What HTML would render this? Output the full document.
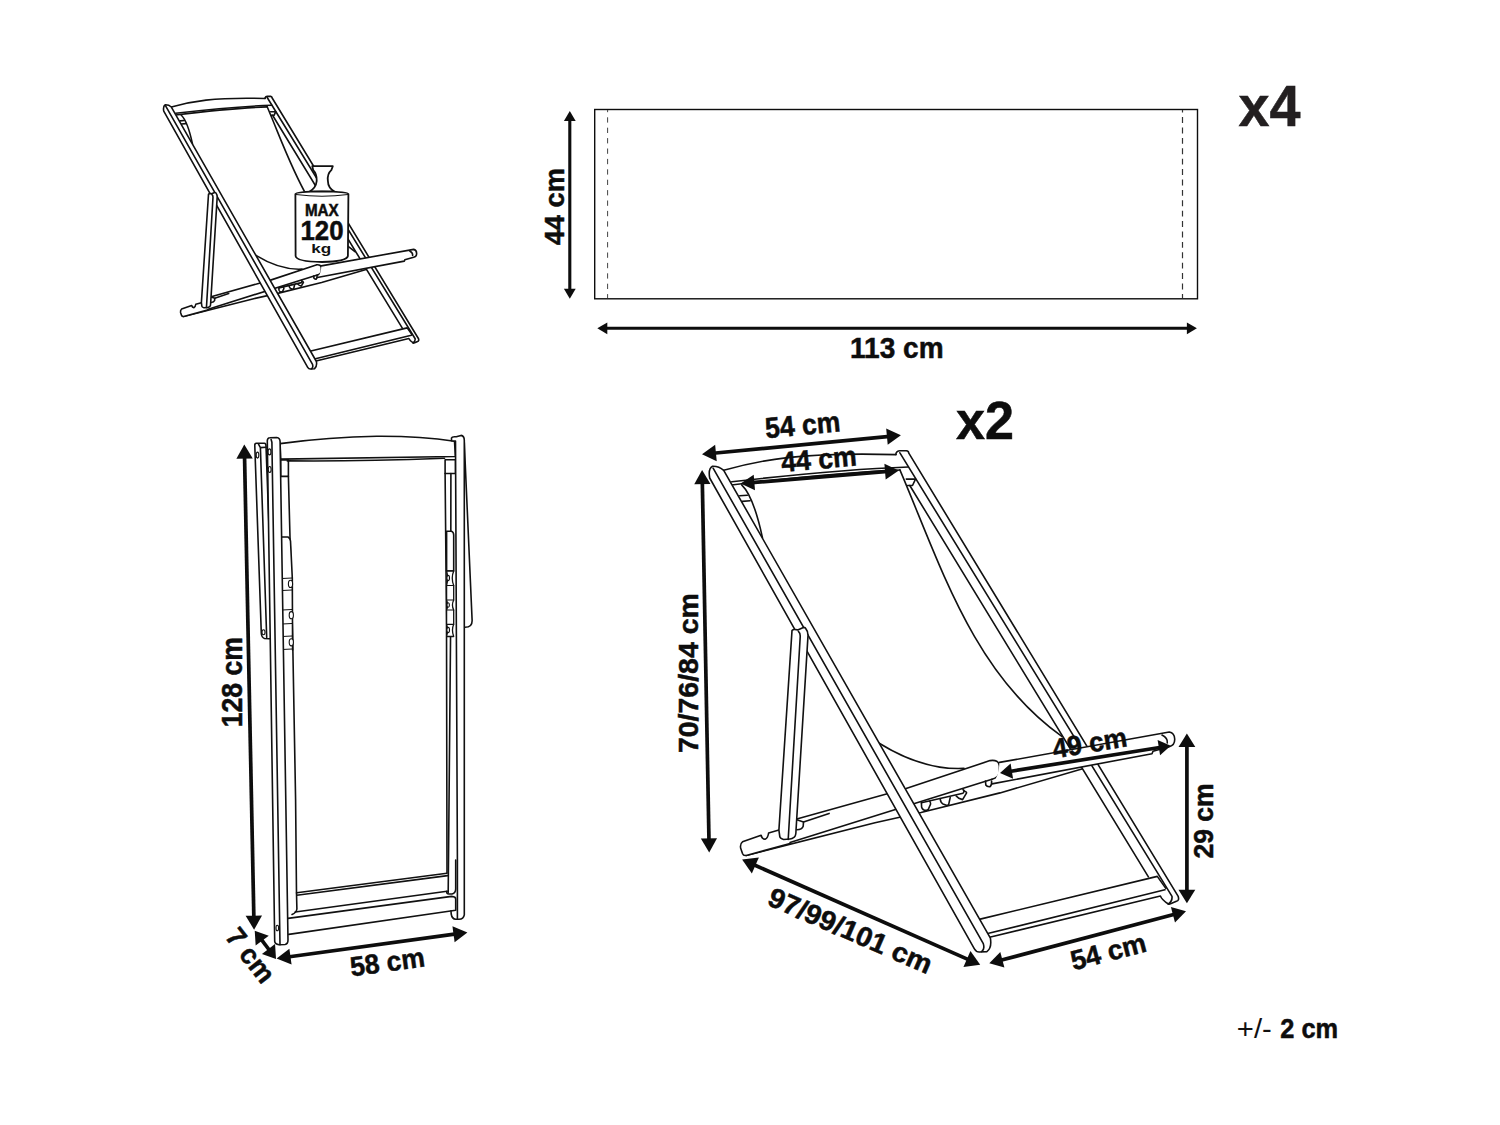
<!DOCTYPE html>
<html><head><meta charset="utf-8"><style>
html,body{margin:0;padding:0;background:#fff;}
svg{display:block;font-family:"Liberation Sans",sans-serif;}
</style></head><body>
<svg width="1500" height="1125" viewBox="0 0 1500 1125">
<rect width="1500" height="1125" fill="#fff"/>
<g id="bigchair"><path d="M899.9,469.9 C940.6,565.2 973.1,673.3 1061.8,736.4" fill="none" stroke="#111" stroke-width="1.6" stroke-linejoin="round" stroke-linecap="round" vector-effect="non-scaling-stroke"/>
<path d="M741.7,484.9 C750,493 757,512 762.5,538" fill="none" stroke="#111" stroke-width="1.6" stroke-linejoin="round" stroke-linecap="round" vector-effect="non-scaling-stroke"/>
<path d="M879.2,743.2 C904.5,758.8 933.8,770.0 964.0,768.4" fill="none" stroke="#111" stroke-width="1.6" stroke-linejoin="round" stroke-linecap="round" vector-effect="non-scaling-stroke"/>
<path d="M896,454.6 L896,453.2 Q897,450.7 899.9,450.7 L906.3,450.7 Q908.8,451 908.8,453.2 L1178.2,896.4 Q1179.5,900.5 1176.4,901.3 L1171.1,903.6 Q1169,904.5 1168.4,904" fill="#fff" stroke="#111" stroke-width="1.6" stroke-linejoin="round" stroke-linecap="round" vector-effect="non-scaling-stroke"/>
<path d="M899.9,452.8 L1172,896.4 Q1172.5,901 1168.4,904" fill="none" stroke="#111" stroke-width="1.6" stroke-linejoin="round" stroke-linecap="round" vector-effect="non-scaling-stroke"/>
<path d="M909.8,485.5 L1148.4,876.9" fill="none" stroke="#111" stroke-width="1.6" stroke-linejoin="round" stroke-linecap="round" vector-effect="non-scaling-stroke"/>
<path d="M906.3,479.1 L915.5,479.1 L912.5,485.5 L907.5,485.5" fill="none" stroke="#111" stroke-width="1.6" stroke-linejoin="round" stroke-linecap="round" vector-effect="non-scaling-stroke"/>
<path d="M723.7,470.3 C760,460 800,452 896,454.6" fill="none" stroke="#111" stroke-width="1.6" stroke-linejoin="round" stroke-linecap="round" vector-effect="non-scaling-stroke"/>
<path d="M731.8,481.8 C790,475 850,469 908.4,467" fill="none" stroke="#111" stroke-width="1.6" stroke-linejoin="round" stroke-linecap="round" vector-effect="non-scaling-stroke"/>
<path d="M731.4,485 C790,478 850,472 900,470" fill="none" stroke="#111" stroke-width="1.6" stroke-linejoin="round" stroke-linecap="round" vector-effect="non-scaling-stroke"/>
<path d="M739.8,495.8 L747.3,495.2 M742.3,501.4 L750.1,500.8" fill="none" stroke="#111" stroke-width="1.6" stroke-linejoin="round" stroke-linecap="round" vector-effect="non-scaling-stroke"/>
<path d="M980.2,919.1 L1157.3,876.4 L1165.8,888.4 M988.7,933.3 L1164.9,889.8 M989.6,937.3 L1160.4,896 Q1162,900 1168.4,904" fill="none" stroke="#111" stroke-width="1.6" stroke-linejoin="round" stroke-linecap="round" vector-effect="non-scaling-stroke"/>
<path d="M746.2,855.4 L875,822.7 L921,812.5 L1000,792.9 L1081.8,769.1" fill="none" stroke="#111" stroke-width="1.6" stroke-linejoin="round" stroke-linecap="round" vector-effect="non-scaling-stroke"/>
<path d="M790,842.5 L992,779.2" fill="none" stroke="#111" stroke-width="1.6" stroke-linejoin="round" stroke-linecap="round" vector-effect="non-scaling-stroke"/>
<path d="M796.8,819.1 L906.1,788.6 L990,760.6 Q998.8,759.3 999.4,766 L999.4,771.5 Q999,777.5 992,779.2" fill="none" stroke="#111" stroke-width="1.6" stroke-linejoin="round" stroke-linecap="round" vector-effect="non-scaling-stroke"/>
<path d="M803.5,821.9 L829.1,813.4" fill="none" stroke="#111" stroke-width="1.6" stroke-linejoin="round" stroke-linecap="round" vector-effect="non-scaling-stroke"/>
<path d="M796.8,819.8 L803.5,821.9 L803.2,826.2 Q802,829.5 796.8,829.7" fill="none" stroke="#111" stroke-width="1.6" stroke-linejoin="round" stroke-linecap="round" vector-effect="non-scaling-stroke"/>
<path d="M921.4,802.8 L963,793.2 Q964.5,792 963.8,790.4" fill="none" stroke="#111" stroke-width="1.6" stroke-linejoin="round" stroke-linecap="round" vector-effect="non-scaling-stroke"/>
<path d="M921.4,802.8 L921.6,807 Q922.5,810.5 926.2,810.4 L928.2,809.6 L930.6,804 Q930.5,801.8 929.8,801.6" fill="none" stroke="#111" stroke-width="1.6" stroke-linejoin="round" stroke-linecap="round" vector-effect="non-scaling-stroke"/>
<path d="M940.2,799.2 Q940.8,803 943,804 L947,805.4 L948.6,804.8 L950.2,797.6" fill="none" stroke="#111" stroke-width="1.6" stroke-linejoin="round" stroke-linecap="round" vector-effect="non-scaling-stroke"/>
<path d="M956.2,796 Q958,798.5 962.6,799.6 L966.6,792.8 Q966,791.2 964.6,791.2 L963,789.6" fill="none" stroke="#111" stroke-width="1.6" stroke-linejoin="round" stroke-linecap="round" vector-effect="non-scaling-stroke"/>
<path d="M985.5,781 L985.8,785 Q987,787 990,786.7 Q992,785 991.6,781" fill="none" stroke="#111" stroke-width="1.6" stroke-linejoin="round" stroke-linecap="round" vector-effect="non-scaling-stroke"/>
<path d="M999.5,762.4 L1169.3,732 C1176,733 1177,745 1169.3,746.7 L1153,751.3 L1152,753.7 L992,783.9 Q999,777 999.5,762.4 Z" fill="#fff" stroke="none"/>
<path d="M999.5,762.4 L1169.3,732 C1176,733 1177,745 1169.3,746.7 L1153,751.3 L1152,753.7 L992,783.9" fill="none" stroke="#111" stroke-width="1.6" stroke-linejoin="round" stroke-linecap="round" vector-effect="non-scaling-stroke"/>
<path d="M1162,735 Q1168,738 1167.3,743" fill="none" stroke="#111" stroke-width="1.6" stroke-linejoin="round" stroke-linecap="round" vector-effect="non-scaling-stroke"/>
<path d="M778.9,830.1 L768.6,833 Q768,838 765,839.3 Q762,839 761.1,835.3 L742.5,841.8 Q740,843.5 740.6,848 L742.5,853.5 Q743.5,856 746.2,855.4 L790,843.5" fill="#fff" stroke="#111" stroke-width="1.6" stroke-linejoin="round" stroke-linecap="round" vector-effect="non-scaling-stroke"/>
<path d="M723.7,470.3 Q719,466 712.5,466.2 Q708,468.5 709.7,478 L974.4,948.9 Q976.5,952.5 980,952 L986.9,951.6 Q992,948 990.4,938.2 Z" fill="#fff" stroke="#111" stroke-width="1.6" stroke-linejoin="round" stroke-linecap="round" vector-effect="non-scaling-stroke"/>
<path d="M713.1,468.1 L983.3,943.6 Q985,949.5 981.6,951.6" fill="none" stroke="#111" stroke-width="1.6" stroke-linejoin="round" stroke-linecap="round" vector-effect="non-scaling-stroke"/>
<path d="M792,630.6 Q793,629.3 794.9,629.5 L797.7,629.9 L803.4,627.4 Q805.6,627.5 805.6,628.4 Q808,631 808,635.6 L796,830.5 Q796,836 794.3,837.2 Q792,839 790,839 L783.6,839.5 Q780,838.5 779.8,836.7 L778.9,830.1 Z" fill="#fff" stroke="#111" stroke-width="1.6" stroke-linejoin="round" stroke-linecap="round" vector-effect="non-scaling-stroke"/>
<path d="M798.4,631.3 Q800.5,633 800.2,637 L788.2,839.5" fill="none" stroke="#111" stroke-width="1.6" stroke-linejoin="round" stroke-linecap="round" vector-effect="non-scaling-stroke"/></g>
<g transform="translate(-222.21,-148.74) scale(0.54383)"><use href="#bigchair" style="vector-effect:non-scaling-stroke"/></g>
<path d="M280.7,459.9 L288.4,459.9 L288.4,476.4 L280.7,476.4 Z" fill="#fff" stroke="#111" stroke-width="1.6" stroke-linejoin="round" stroke-linecap="round"/>
<path d="M288.4,476.4 L292.7,640 L295.6,800 L296.5,893" fill="none" stroke="#111" stroke-width="1.6" stroke-linejoin="round" stroke-linecap="round"/>
<path d="M281.3,537 L288,537 Q290,538 290.5,541 L292.3,578 L292.6,650" fill="#fff" stroke="#111" stroke-width="1.6" stroke-linejoin="round" stroke-linecap="round"/>
<path d="M282,578.5 L292,578.0" fill="none" stroke="#111" stroke-width="1.1" stroke-linejoin="round" stroke-linecap="round"/>
<path d="M282,590.5 L292,590.0" fill="none" stroke="#111" stroke-width="1.1" stroke-linejoin="round" stroke-linecap="round"/>
<path d="M282,610 L292,609.5" fill="none" stroke="#111" stroke-width="1.1" stroke-linejoin="round" stroke-linecap="round"/>
<path d="M282,624 L292,623.5" fill="none" stroke="#111" stroke-width="1.1" stroke-linejoin="round" stroke-linecap="round"/>
<path d="M282,636.5 L292,636.0" fill="none" stroke="#111" stroke-width="1.1" stroke-linejoin="round" stroke-linecap="round"/>
<path d="M282,649.5 L292,649.0" fill="none" stroke="#111" stroke-width="1.1" stroke-linejoin="round" stroke-linecap="round"/>
<ellipse cx="290.5" cy="583.9" rx="2.1" ry="3.6" fill="#fff" stroke="#111" stroke-width="1.1"/>
<ellipse cx="291.3" cy="615.2" rx="2.1" ry="3.6" fill="#fff" stroke="#111" stroke-width="1.1"/>
<ellipse cx="291.3" cy="642.3" rx="2.1" ry="3.6" fill="#fff" stroke="#111" stroke-width="1.1"/>
<path d="M445.1,459.7 L455.5,459.7 L455.5,473.5 L445.1,473.5 Z" fill="#fff" stroke="#111" stroke-width="1.6" stroke-linejoin="round" stroke-linecap="round"/>
<path d="M445.1,473.5 L446.5,620 L447,872.7" fill="none" stroke="#111" stroke-width="1.6" stroke-linejoin="round" stroke-linecap="round"/>
<path d="M450.9,473.5 L450.7,620 L448.2,892.4" fill="none" stroke="#111" stroke-width="1.6" stroke-linejoin="round" stroke-linecap="round"/>
<path d="M446.6,531.2 L451.5,531.2 Q453.7,532 453.7,535 L453.7,571 L446.6,571 Z" fill="#fff" stroke="#111" stroke-width="1.6" stroke-linejoin="round" stroke-linecap="round"/>
<path d="M446.6,571 L453.7,571 Q450.8,578 453.7,585.5 L453.7,600 Q451.2,605 453.7,610 L453.7,624.3 Q451.2,630 453.7,636.5 L446.6,636.5 Q448.6,630 446.6,624.3 L446.6,610 Q448.6,605 446.6,600 L446.6,585.5 Q448.6,578 446.6,571 Z" fill="#fff" stroke="#111" stroke-width="1.3" stroke-linejoin="round" stroke-linecap="round"/>
<path d="M446.6,585.5 L453.7,585.5 M446.6,600 L453.7,600 M446.6,610 L453.7,610 M446.6,624.3 L453.7,624.3" fill="none" stroke="#111" stroke-width="1.2" stroke-linejoin="round" stroke-linecap="round"/>
<ellipse cx="448.2" cy="578" rx="1.3" ry="2.6" fill="#fff" stroke="#111" stroke-width="1.1"/>
<ellipse cx="448.2" cy="605" rx="1.2" ry="2.2" fill="#fff" stroke="#111" stroke-width="1.1"/>
<ellipse cx="448.2" cy="630" rx="1.3" ry="2.6" fill="#fff" stroke="#111" stroke-width="1.1"/>
<path d="M296.8,892.8 L447,873.3 M296.8,895.2 L447.6,875.6 M296.5,893 L296.9,909 Q296.5,912.5 292,914.5" fill="none" stroke="#111" stroke-width="1.6" stroke-linejoin="round" stroke-linecap="round"/>
<path d="M295.2,912 L447,891.2" fill="none" stroke="#111" stroke-width="1.6" stroke-linejoin="round" stroke-linecap="round"/>
<path d="M447,891.2 Q446,894 449,894 L452,894 Q455.7,893 455.7,888.9 L455.7,860" fill="none" stroke="#111" stroke-width="1.6" stroke-linejoin="round" stroke-linecap="round"/>
<path d="M288,918.4 L451.6,896.4 Q455.7,896.8 455.7,899 L455.7,910.3 L288.8,934.4" fill="none" stroke="#111" stroke-width="1.6" stroke-linejoin="round" stroke-linecap="round"/>
<path d="M451,910.9 L451.2,914 Q452,919 455.7,919.2 L457.4,919.2" fill="none" stroke="#111" stroke-width="1.6" stroke-linejoin="round" stroke-linecap="round"/>
<path d="M280.1,443.6 Q330,437 376.7,436.3 Q420,436 454.5,441.3 L455.4,456.5 L280.7,459.1 Z" fill="#fff" stroke="#111" stroke-width="1.6" stroke-linejoin="round" stroke-linecap="round"/>
<path d="M287.3,460.9 C340,461.5 400,460 444.5,458.3" fill="none" stroke="#111" stroke-width="1.6" stroke-linejoin="round" stroke-linecap="round"/>
<path d="M464.3,442.6 L472.1,620 Q472.5,627.3 465,627.3" fill="#fff" stroke="#111" stroke-width="1.6" stroke-linejoin="round" stroke-linecap="round"/>
<path d="M451.5,440.7 L451.5,438 Q452,436.3 456.3,436.8 L461,435.4 Q464.5,436 464.3,441 L464.3,914.9 Q463.5,919.2 459.1,919.2 L457.4,919.2 L457.4,860 L455.5,441 Z" fill="#fff" stroke="#111" stroke-width="1.6" stroke-linejoin="round" stroke-linecap="round"/>
<path d="M254.8,446 Q254.5,443.3 256.4,443.3 L264.4,443.3 Q266,443.5 266,446 L273,635.5 Q272.5,638.7 269.5,638.7 L264.5,638.5 Q261.5,637.5 261.3,633.3 Z" fill="#fff" stroke="#111" stroke-width="1.6" stroke-linejoin="round" stroke-linecap="round"/>
<path d="M258.5,444.1 L260.4,447.6 L266,447.3 M260.4,447.6 L266.7,637.6" fill="none" stroke="#111" stroke-width="1.6" stroke-linejoin="round" stroke-linecap="round"/>
<ellipse cx="257.5" cy="455.1" rx="1.3" ry="3" fill="#fff" stroke="#111" stroke-width="1.1"/>
<ellipse cx="263.5" cy="632.3" rx="1.5" ry="2.5" fill="#fff" stroke="#111" stroke-width="1.1"/>
<path d="M267.3,440.7 Q267.6,437.7 269.7,437.7 L276.7,437.5 Q280,438 280.1,441.7 L288,940 Q288,944 285,944.5 L279,944.7 Q275,944 274.7,941.3 Z" fill="#fff" stroke="#111" stroke-width="1.6" stroke-linejoin="round" stroke-linecap="round"/>
<path d="M271.1,439.6 L271.9,442.3 L280,944.7" fill="none" stroke="#111" stroke-width="1.6" stroke-linejoin="round" stroke-linecap="round"/>
<ellipse cx="269.5" cy="451.9" rx="1.4" ry="3" fill="#fff" stroke="#111" stroke-width="1.1"/>
<ellipse cx="269.7" cy="469.5" rx="1.4" ry="3" fill="#fff" stroke="#111" stroke-width="1.1"/>
<ellipse cx="277.3" cy="928" rx="1.3" ry="2.8" fill="#fff" stroke="#111" stroke-width="1.1"/>
<path d="M312.3,166.2 L332.8,166.2 L331.3,170.2 Q327,174 327.9,181 Q328,188 334.7,191.7 L309.3,191.7 Q316,188 316.7,181 Q317,174 313.2,170.2 Z" fill="#fff" stroke="#111" stroke-width="1.8" stroke-linejoin="round"/>
<path d="M295.4,194 Q296,191.6 322,191.3 Q348,191.6 348.4,194 L347.9,256 Q347,261.5 322,262 Q296,261.5 295.6,256 Z" fill="#fff" stroke="#111" stroke-width="1.8"/>
<path d="M296,194.5 Q322,198 348,194.5" fill="none" stroke="#111" stroke-width="1.2"/>
<rect x="594.7" y="109.5" width="602.8" height="189.3" fill="none" stroke="#0d0d0d" stroke-width="1.4"/>
<line x1="607.6" y1="110" x2="607.6" y2="298" stroke="#444" stroke-width="1.0" stroke-dasharray="5.3,5.1" stroke-dashoffset="3.1"/>
<line x1="1182.5" y1="110" x2="1182.5" y2="298" stroke="#333" stroke-width="1.2" stroke-dasharray="5.9,4.5" stroke-dashoffset="3.3"/>
<line x1="569.80" y1="118.90" x2="569.80" y2="290.70" stroke="#0d0d0d" stroke-width="3.1"/>
<polygon points="569.80,110.90 563.90,120.90 575.70,120.90" fill="#0d0d0d"/>
<polygon points="569.80,298.70 563.90,288.70 575.70,288.70" fill="#0d0d0d"/>
<line x1="605.30" y1="328.30" x2="1188.90" y2="328.30" stroke="#0d0d0d" stroke-width="3.1"/>
<polygon points="597.30,328.30 607.30,334.20 607.30,322.40" fill="#0d0d0d"/>
<polygon points="1196.90,328.30 1186.90,334.20 1186.90,322.40" fill="#0d0d0d"/>
<g transform="translate(554.00,206.70) rotate(-90.00)"><text x="0" y="9.75" font-size="28.34" font-weight="bold" text-anchor="middle" textLength="77.3" lengthAdjust="spacingAndGlyphs" fill="#0d0d0d" stroke="#0d0d0d" stroke-width="0.5">44 cm</text></g>
<g transform="translate(896.80,347.60) rotate(0.00)"><text x="0" y="10.00" font-size="29.07" font-weight="bold" text-anchor="middle" textLength="93.6" lengthAdjust="spacingAndGlyphs" fill="#0d0d0d" stroke="#0d0d0d" stroke-width="0.5">113 cm</text></g>
<g transform="translate(1269.50,107.00) rotate(0.00)"><text x="0" y="19.45" font-size="56.54" font-weight="bold" text-anchor="middle" textLength="62.0" lengthAdjust="spacingAndGlyphs" fill="#231f20" stroke="#231f20" stroke-width="0.5">x4</text></g>
<line x1="713.15" y1="453.23" x2="889.75" y2="436.37" stroke="#0d0d0d" stroke-width="3.7"/>
<polygon points="702.00,454.30 716.72,461.13 715.16,444.81" fill="#0d0d0d"/>
<polygon points="900.90,435.30 887.74,444.79 886.18,428.47" fill="#0d0d0d"/>
<line x1="751.60" y1="482.69" x2="887.80" y2="471.41" stroke="#0d0d0d" stroke-width="3.7"/>
<polygon points="740.60,483.60 755.00,490.23 753.71,474.69" fill="#0d0d0d"/>
<polygon points="898.80,470.50 885.69,479.41 884.40,463.87" fill="#0d0d0d"/>
<line x1="702.31" y1="481.30" x2="708.99" y2="841.20" stroke="#0d0d0d" stroke-width="3.7"/>
<polygon points="702.10,470.10 694.26,484.25 710.46,483.95" fill="#0d0d0d"/>
<polygon points="709.20,852.40 700.84,838.55 717.04,838.25" fill="#0d0d0d"/>
<line x1="1186.90" y1="744.30" x2="1186.90" y2="892.50" stroke="#0d0d0d" stroke-width="3.7"/>
<polygon points="1186.90,733.50 1178.50,747.00 1195.30,747.00" fill="#0d0d0d"/>
<polygon points="1186.90,903.30 1178.50,889.80 1195.30,889.80" fill="#0d0d0d"/>
<line x1="1009.48" y1="771.48" x2="1161.22" y2="747.22" stroke="#0d0d0d" stroke-width="3.7"/>
<polygon points="1000.00,773.00 1013.08,778.81 1010.62,763.40" fill="#0d0d0d"/>
<polygon points="1170.70,745.70 1160.08,755.30 1157.62,739.89" fill="#0d0d0d"/>
<line x1="752.71" y1="864.29" x2="969.59" y2="960.11" stroke="#0d0d0d" stroke-width="3.7"/>
<polygon points="742.10,859.60 751.85,873.42 758.88,857.50" fill="#0d0d0d"/>
<polygon points="980.20,964.80 963.42,966.90 970.45,950.98" fill="#0d0d0d"/>
<line x1="999.74" y1="960.54" x2="1175.56" y2="914.06" stroke="#0d0d0d" stroke-width="3.7"/>
<polygon points="989.30,963.30 1004.40,967.58 1000.31,952.12" fill="#0d0d0d"/>
<polygon points="1186.00,911.30 1174.99,922.48 1170.90,907.02" fill="#0d0d0d"/>
<g transform="translate(802.60,424.90) rotate(-5.30)"><text x="0" y="10.00" font-size="29.07" font-weight="bold" text-anchor="middle" textLength="75.4" lengthAdjust="spacingAndGlyphs" fill="#0d0d0d" stroke="#0d0d0d" stroke-width="0.5">54 cm</text></g>
<g transform="translate(818.80,459.10) rotate(-5.00)"><text x="0" y="9.75" font-size="28.34" font-weight="bold" text-anchor="middle" textLength="75.5" lengthAdjust="spacingAndGlyphs" fill="#0d0d0d" stroke="#0d0d0d" stroke-width="0.5">44 cm</text></g>
<g transform="translate(985.00,420.50) rotate(0.00)"><text x="0" y="18.50" font-size="53.78" font-weight="bold" text-anchor="middle" textLength="58.0" lengthAdjust="spacingAndGlyphs" fill="#0d0d0d" stroke="#0d0d0d" stroke-width="0.5">x2</text></g>
<g transform="translate(688.20,673.10) rotate(-90.00)"><text x="0" y="9.35" font-size="27.18" font-weight="bold" text-anchor="middle" textLength="160.0" lengthAdjust="spacingAndGlyphs" fill="#0d0d0d" stroke="#0d0d0d" stroke-width="0.5">70/76/84 cm</text></g>
<g transform="translate(1203.30,820.90) rotate(-90.00)"><text x="0" y="9.70" font-size="28.20" font-weight="bold" text-anchor="middle" textLength="75.2" lengthAdjust="spacingAndGlyphs" fill="#0d0d0d" stroke="#0d0d0d" stroke-width="0.5">29 cm</text></g>
<g transform="translate(1089.70,743.00) rotate(-9.30)"><text x="0" y="9.50" font-size="27.62" font-weight="bold" text-anchor="middle" textLength="75.0" lengthAdjust="spacingAndGlyphs" fill="#0d0d0d" stroke="#0d0d0d" stroke-width="0.5">49 cm</text></g>
<g transform="translate(850.40,930.60) rotate(23.50)"><text x="0" y="9.50" font-size="27.62" font-weight="bold" text-anchor="middle" textLength="175.8" lengthAdjust="spacingAndGlyphs" fill="#0d0d0d" stroke="#0d0d0d" stroke-width="0.5">97/99/101 cm</text></g>
<g transform="translate(1108.30,951.60) rotate(-14.60)"><text x="0" y="9.50" font-size="27.62" font-weight="bold" text-anchor="middle" textLength="77.0" lengthAdjust="spacingAndGlyphs" fill="#0d0d0d" stroke="#0d0d0d" stroke-width="0.5">54 cm</text></g>
<line x1="244.53" y1="455.80" x2="253.87" y2="918.50" stroke="#0d0d0d" stroke-width="3.7"/>
<polygon points="244.30,444.60 236.38,458.76 252.78,458.43" fill="#0d0d0d"/>
<polygon points="254.10,929.70 245.62,915.87 262.02,915.54" fill="#0d0d0d"/>
<line x1="260.71" y1="938.69" x2="269.99" y2="951.01" stroke="#0d0d0d" stroke-width="3.7"/>
<polygon points="254.70,930.70 255.67,945.62 268.77,935.76" fill="#0d0d0d"/>
<polygon points="276.00,959.00 261.93,953.94 275.03,944.08" fill="#0d0d0d"/>
<line x1="287.70" y1="956.98" x2="456.30" y2="933.92" stroke="#0d0d0d" stroke-width="3.7"/>
<polygon points="276.60,958.50 291.56,964.53 289.39,948.68" fill="#0d0d0d"/>
<polygon points="467.40,932.40 454.61,942.22 452.44,926.37" fill="#0d0d0d"/>
<g transform="translate(231.60,682.20) rotate(-90.00)"><text x="0" y="9.90" font-size="28.78" font-weight="bold" text-anchor="middle" textLength="90.0" lengthAdjust="spacingAndGlyphs" fill="#0d0d0d" stroke="#0d0d0d" stroke-width="0.5">128 cm</text></g>
<g transform="translate(250.60,955.30) rotate(52.00)"><text x="0" y="9.50" font-size="27.62" font-weight="bold" text-anchor="middle" textLength="61.0" lengthAdjust="spacingAndGlyphs" fill="#0d0d0d" stroke="#0d0d0d" stroke-width="0.5">7 cm</text></g>
<g transform="translate(387.30,962.10) rotate(-7.80)"><text x="0" y="9.50" font-size="27.62" font-weight="bold" text-anchor="middle" textLength="75.0" lengthAdjust="spacingAndGlyphs" fill="#0d0d0d" stroke="#0d0d0d" stroke-width="0.5">58 cm</text></g>
<text x="1236.8" y="1037.8" font-size="28.5" textLength="35" lengthAdjust="spacingAndGlyphs" fill="#111">+/-</text>
<g transform="translate(1309.15,1028.00) rotate(0.00)"><text x="0" y="9.80" font-size="28.49" font-weight="bold" text-anchor="middle" textLength="57.9" lengthAdjust="spacingAndGlyphs" fill="#0d0d0d" stroke="#0d0d0d" stroke-width="0.5">2 cm</text></g>
<g transform="translate(321.80,210.70) rotate(0.00)"><text x="0" y="5.40" font-size="15.70" font-weight="bold" text-anchor="middle" textLength="33.8" lengthAdjust="spacingAndGlyphs" fill="#0d0d0d" stroke="#0d0d0d" stroke-width="0.5">MAX</text></g>
<g transform="translate(322.00,230.30) rotate(0.00)"><text x="0" y="9.30" font-size="27.03" font-weight="bold" text-anchor="middle" textLength="43.0" lengthAdjust="spacingAndGlyphs" fill="#0d0d0d" stroke="#0d0d0d" stroke-width="0.5">120</text></g>
<text x="321.3" y="252.8" font-size="13.5" font-weight="bold" text-anchor="middle" textLength="20" lengthAdjust="spacingAndGlyphs" fill="#111">kg</text>
</svg></body></html>
